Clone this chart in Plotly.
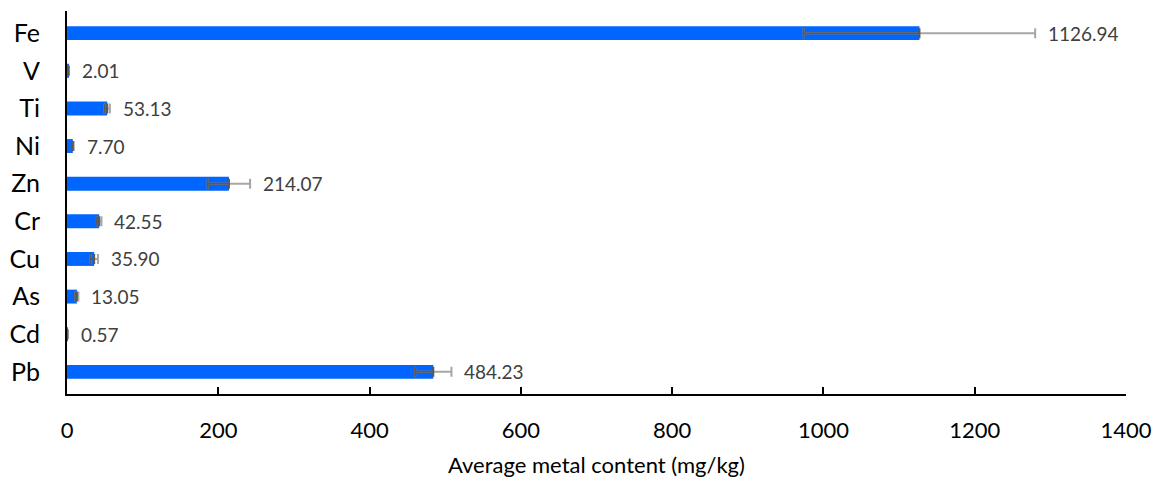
import plotly.graph_objects as go

# Metals listed top to bottom as they appear on the chart
metals = ["Fe", "V", "Ti", "Ni", "Zn", "Cr", "Cu", "As", "Cd", "Pb"]
mean_content = [1126.94, 2.01, 53.13, 7.70, 214.07, 42.55, 35.90, 13.05, 0.57, 484.23]
std_error = [153, 0.6, 3.5, 1.2, 28, 3.0, 5.0, 2.0, 0.3, 24]
x_ticks = [0, 200, 400, 600, 800, 1000, 1200, 1400]

FONT = "Lato"
BAR_BLUE = "#0066FF"

fig = go.Figure()

# Bars with the full (light grey) error bars
fig.add_trace(go.Bar(
    x=mean_content, y=metals, orientation="h",
    marker=dict(color=BAR_BLUE, line=dict(width=0)),
    width=0.37,
    error_x=dict(type="data", array=std_error, symmetric=True,
                 color="#A6A6A6", thickness=2, width=5),
    hoverinfo="skip",
))

# Darker lower half of each error bar, drawn over the blue bar
fig.add_trace(go.Scatter(
    x=mean_content, y=metals, mode="markers",
    marker=dict(size=1, color="rgba(0,0,0,0)"),
    error_x=dict(type="data", symmetric=False,
                 array=[0] * len(metals), arrayminus=std_error,
                 color="#595959", thickness=2, width=5),
    hoverinfo="skip",
))

# Value labels just past the end of each error bar
for metal, mean, err in zip(metals, mean_content, std_error):
    fig.add_annotation(
        x=mean + err, y=metal, xref="x", yref="y",
        text=f"{mean:.2f}", showarrow=False,
        xanchor="left", yanchor="middle", xshift=11,
        font=dict(family=FONT, size=19, color="#404040"),
    )

fig.update_layout(
    width=1154, height=478,
    margin=dict(l=67, r=28, t=11, b=84),
    paper_bgcolor="white", plot_bgcolor="white",
    showlegend=False,
    hovermode=False,
    font=dict(family=FONT, color="black"),
    xaxis=dict(
        range=[0, 1400], tickvals=x_ticks,
        ticktext=[str(t) for t in x_ticks],
        automargin=False,
        showgrid=False, zeroline=False,
        showline=True, linecolor="black", linewidth=1.5,
        ticks="inside", ticklen=7, tickcolor="black", tickwidth=1.5,
        ticklabelstandoff=16,
        tickfont=dict(family=FONT, size=22, color="black"),
        title=dict(text="Average metal content (mg/kg)",
                   font=dict(family=FONT, size=22, color="black"),
                   standoff=20),
    ),
    yaxis=dict(
        categoryorder="array", categoryarray=metals[::-1],
        automargin=False,
        showgrid=False, zeroline=False,
        showline=True, linecolor="black", linewidth=2,
        ticks="", ticklabelstandoff=20,
        tickfont=dict(family=FONT, size=25, color="black"),
    ),
)

fig.write_html("out.html")
